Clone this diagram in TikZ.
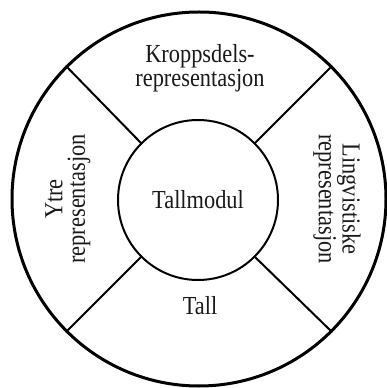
\documentclass[tikz,border=0pt]{standalone}
\usepackage{fontspec}
\setmainfont{Liberation Serif}[FakeStretch=0.86]
\begin{document}
\begin{tikzpicture}[x=1pt,y=1pt,
  lbl/.style={font=\fontsize{26}{22.5}\selectfont, align=center, inner sep=0pt, text=black!90},
  ring/.style={circle, draw, line width=3pt, inner sep=0pt},
  hub/.style={circle, draw, line width=2pt, inner sep=0pt},
  spoke/.style={line width=2pt}]
\useasboundingbox (0,0) rectangle (387,388);
\node[ring, minimum size=374pt] (outer) at (199,189) {};
\node[hub, minimum size=160pt] (inner) at (198,188) {};
\draw[spoke] (outer.45) -- (inner.45);
\draw[spoke] (outer.135) -- (inner.135);
\draw[spoke] (outer.225) -- (inner.225);
\draw[spoke] (outer.315) -- (inner.315);
\node[lbl] (mid) at (198,188) {Tallmodul};
\node[lbl] (top) at (200,320) {Kroppsdels-\\representasjon};
\node[lbl] (bot) at (200,82) {Tall};
\node[lbl, rotate=90] (left) at (68,189) {Ytre\\representasjon};
\node[lbl, rotate=-90] (right) at (337,189) {Lingvistiske\\representasjon};
\end{tikzpicture}
\end{document}
